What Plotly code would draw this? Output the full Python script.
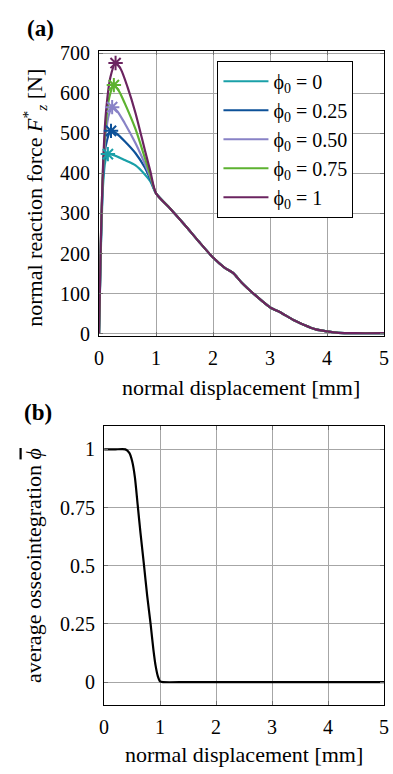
import plotly.graph_objects as go

# ---------------- data ----------------
labels = ["ϕ<sub>0</sub> = 0", "ϕ<sub>0</sub> = 0.25", "ϕ<sub>0</sub> = 0.50",
          "ϕ<sub>0</sub> = 0.75", "ϕ<sub>0</sub> = 1"]
colors = ["#1aa0a8", "#0d5198", "#8882c6", "#5db230", "#6b2460"]

# common tail (all curves coincide for u >= 1 mm)
tail_x = [1.25, 1.5, 1.75, 2.0, 2.2, 2.35, 2.5, 2.75, 3.0, 3.2, 3.4, 3.6, 3.8, 4.0, 4.2, 4.5, 5.0]
tail_y = [312, 272, 230, 190, 165, 152, 128, 95, 66, 52, 35, 22, 11, 6, 2.5, 1.5, 1.5]

head_x0 = [0, 0.03, 0.07, 0.11, 0.155, 0.3, 0.45, 0.64, 0.8, 0.9, 1.0]
head_y0 = [0, 200, 370, 430, 448, 443, 433, 420, 398, 380, 350]
head_x25 = [0, 0.03, 0.07, 0.12, 0.21, 0.3, 0.45, 0.64, 0.8, 0.9, 1.0]
head_y25 = [0, 210, 390, 470, 506, 500, 480, 450, 415, 385, 350]
head_x50 = [0, 0.03, 0.07, 0.12, 0.17, 0.23, 0.32, 0.45, 0.64, 0.8, 0.9, 1.0]
head_y50 = [0, 215, 400, 500, 545, 565, 555, 525, 475, 425, 390, 350]
head_x75 = [0, 0.03, 0.07, 0.12, 0.18, 0.26, 0.35, 0.45, 0.64, 0.8, 0.9, 1.0]
head_y75 = [0, 220, 410, 525, 590, 620, 605, 575, 510, 440, 395, 350]
head_x100 = [0, 0.03, 0.07, 0.12, 0.2, 0.29, 0.38, 0.5, 0.64, 0.8, 0.9, 1.0]
head_y100 = [0, 225, 420, 550, 640, 675, 660, 615, 550, 460, 405, 350]

peak_x = [0.155, 0.21, 0.23, 0.26, 0.29]
peak_y = [448, 506, 565, 620, 675]

# panel (b): average osseointegration
phi_x = [0, 0.2, 0.38, 0.45, 0.5, 0.55, 0.6, 0.65, 0.713, 0.77, 0.83, 0.88, 0.92, 0.96, 1.0, 1.05, 1.5, 5.0]
phi_y = [1, 1, 1, 0.985, 0.95, 0.88, 0.76, 0.64, 0.5, 0.37, 0.25, 0.14, 0.07, 0.025, 0.003, 0, 0, 0]

xticks = [0, 1, 2, 3, 4, 5]
yticks_a = [0, 100, 200, 300, 400, 500, 600, 700]
yticks_b = [0, 0.25, 0.5, 0.75, 1]
yticklabels_b = ["0", "0.25", "0.5", "0.75", "1"]

heads = [(head_x0, head_y0), (head_x25, head_y25), (head_x50, head_y50),
         (head_x75, head_y75), (head_x100, head_y100)]

# ---------------- figure ----------------
W, H = 393, 774
FONT = "Liberation Serif, Times New Roman, serif"
fig = go.Figure()

for i, (hx, hy) in enumerate(heads):
    fig.add_trace(go.Scatter(
        x=hx + tail_x, y=hy + tail_y, mode="lines", name=labels[i],
        line=dict(color=colors[i], width=2.2, shape="spline", smoothing=0.7),
        xaxis="x", yaxis="y", showlegend=True))
for i in range(5):
    fig.add_trace(go.Scatter(
        x=[peak_x[i]], y=[peak_y[i]], mode="markers",
        marker=dict(symbol="asterisk-open", size=12, color=colors[i],
                    line=dict(color=colors[i], width=2)),
        xaxis="x", yaxis="y", showlegend=False))

fig.add_trace(go.Scatter(
    x=phi_x, y=phi_y, mode="lines", line=dict(color="black", width=2.2, shape="spline", smoothing=0.6),
    xaxis="x2", yaxis="y2", showlegend=False))

grid = "#a6a6a6"
common_ax = dict(showline=True, linecolor="black", linewidth=1, mirror="ticks",
                 ticks="inside", ticklen=4, tickcolor="#707070", tickwidth=1,
                 showgrid=True, gridcolor=grid, gridwidth=1, zeroline=False,
                 ticklabeloverflow="allow",
                 tickfont=dict(family=FONT, size=20, color="black"))

fig.update_layout(
    width=W, height=H, margin=dict(l=0, r=0, t=0, b=0),
    paper_bgcolor="white", plot_bgcolor="white",
    xaxis=dict(domain=[96.5 / W, 389 / W], range=[0, 5], tickvals=xticks,
               anchor="y", ticklabelstandoff=4, **common_ax),
    yaxis=dict(domain=[1 - 335 / H, 1 - 43 / H], range=[-6, 705], tickvals=yticks_a,
               anchor="x", ticklabelstandoff=4, **common_ax),
    xaxis2=dict(domain=[101.7 / W, 389 / W], range=[0, 5], tickvals=xticks,
                anchor="y2", ticklabelstandoff=4, **common_ax),
    yaxis2=dict(domain=[1 - 713 / H, 1 - 427 / H], range=[-0.1, 1.1], tickvals=yticks_b,
                ticktext=yticklabels_b, anchor="x2", ticklabelstandoff=4, **common_ax),
    legend=dict(x=218 / W, y=1 - 53 / H, xanchor="left", yanchor="top",
                bgcolor="white", bordercolor="black", borderwidth=1,
                font=dict(family=FONT, size=20, color="black"),
                itemwidth=45, tracegroupgap=0, entrywidth=110),
    font=dict(family=FONT, color="black"),
)

ann = [
    dict(text="<b>(a)</b>", x=21 / W, y=1 - 20 / H, xanchor="left", yanchor="middle", font_size=23),
    dict(text="<b>(b)</b>", x=17 / W, y=1 - 413 / H, xanchor="left", yanchor="middle", font_size=23),
    dict(text="normal displacement [mm]", x=242.5 / W, y=1 - 388 / H, xanchor="center",
         yanchor="middle", font_size=22),
    dict(text="normal displacement [mm]", x=245 / W, y=1 - 763 / H, xanchor="center",
         yanchor="middle", font_size=22),
    dict(text="normal reaction force <i>F</i><sup>*</sup><sub><i>z</i></sub> [N]", x=30 / W, y=1 - 193 / H,
         xanchor="center", yanchor="middle", textangle=-90, font_size=22),
    dict(text="average osseointegration <span style='text-decoration:overline'><i>ϕ</i></span>",
         x=30 / W, y=1 - 570 / H,
         xanchor="center", yanchor="middle", textangle=-90, font_size=22),
]
for a in ann:
    fs = a.pop("font_size")
    fig.add_annotation(xref="paper", yref="paper", showarrow=False,
                       font=dict(family=FONT, size=fs, color="black"), **a)

fig.write_html("out.html", config={"displayModeBar": False},
               post_script="document.body.style.margin='0';document.body.style.overflow='hidden';")
